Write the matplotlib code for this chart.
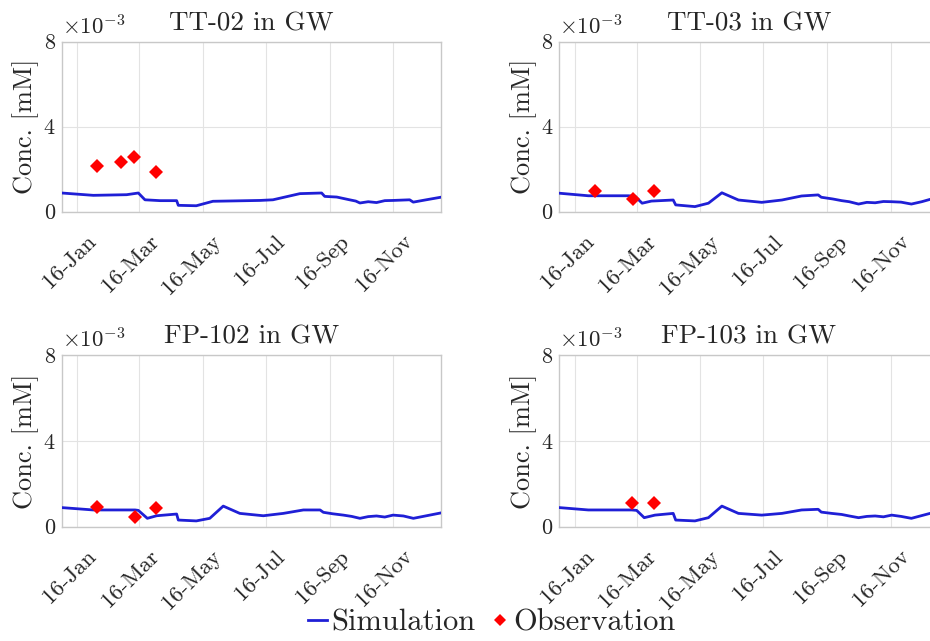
import matplotlib
matplotlib.use("Agg")
import matplotlib.pyplot as plt
import matplotlib.transforms as mtransforms
import numpy as np
import pandas as pd
from matplotlib.lines import Line2D

plt.rcParams['font.family'] = ['cmr10', 'DejaVu Serif']
plt.rcParams['mathtext.fontset'] = 'cm'
plt.rcParams['axes.unicode_minus'] = False

start = pd.Timestamp('2016-01-01')
end = pd.Timestamp('2017-01-01')

titles = ['TT-02 in GW', 'TT-03 in GW', 'FP-102 in GW', 'FP-103 in GW']

# simulation (days since 2016-01-01, concentration in 1e-3 mM)
sim_days_tt02 = [0, 30.5, 62.7, 74, 80.4, 95, 111, 112.6, 130, 146, 191.5, 204, 230, 251,
                 254, 265.6, 278, 284, 288, 296, 304, 312, 320, 336, 339.5, 352, 366]
sim_vals_tt02 = [0.88, 0.77, 0.80, 0.88, 0.56, 0.52, 0.52, 0.30, 0.28, 0.49, 0.53, 0.56, 0.85, 0.88,
                 0.72, 0.69, 0.56, 0.50, 0.41, 0.47, 0.43, 0.52, 0.53, 0.56, 0.45, 0.56, 0.68]

sim_days_tt03 = [0, 28, 66.7, 73, 80, 89, 110, 112.4, 131, 144, 157, 173, 195.5, 215,
                 234, 250, 253, 264, 272.7, 280, 289, 297, 305, 313, 321, 330, 340, 350, 358, 366]
sim_vals_tt03 = [0.87, 0.75, 0.75, 0.73, 0.40, 0.50, 0.55, 0.32, 0.24, 0.40, 0.89, 0.55, 0.44, 0.55,
                 0.74, 0.79, 0.68, 0.60, 0.52, 0.47, 0.36, 0.44, 0.42, 0.48, 0.47, 0.45, 0.36, 0.47, 0.58, 0.62]

sim_days_fp102 = [0, 30.5, 70.8, 74, 82.7, 91.7, 111, 112.6, 130, 143, 156, 172, 194.7, 214,
                  233.4, 249.5, 252.7, 262, 272, 280, 288, 296, 304, 312, 320, 330, 339.6, 366]
sim_vals_fp102 = [0.89, 0.78, 0.78, 0.76, 0.39, 0.51, 0.59, 0.31, 0.27, 0.39, 0.96, 0.62, 0.51, 0.62,
                  0.78, 0.78, 0.67, 0.60, 0.54, 0.48, 0.39, 0.47, 0.50, 0.45, 0.54, 0.50, 0.39, 0.64]

sim_days_fp103 = [0, 28, 69.9, 74.7, 82, 92.4, 110, 112.4, 131, 144, 157, 173, 195.5, 215,
                  234, 250, 253, 263, 272.7, 280, 289, 297, 305, 313, 321, 330, 340, 358, 366]
sim_vals_fp103 = [0.89, 0.78, 0.78, 0.76, 0.42, 0.54, 0.62, 0.31, 0.27, 0.42, 0.96, 0.62, 0.54, 0.62,
                  0.78, 0.81, 0.68, 0.62, 0.57, 0.50, 0.42, 0.48, 0.50, 0.46, 0.54, 0.48, 0.39, 0.62, 0.66]

# observations
obs_dates_tt02 = ['2016-02-04', '2016-02-27', '2016-03-11', '2016-04-01']
obs_vals_tt02 = [2.13, 2.32, 2.57, 1.88]
obs_dates_tt03 = ['2016-02-04', '2016-03-12', '2016-04-01']
obs_vals_tt03 = [0.97, 0.60, 0.97]
obs_dates_fp102 = ['2016-02-04', '2016-03-12', '2016-04-01']
obs_vals_fp102 = [0.90, 0.47, 0.86]
obs_dates_fp103 = ['2016-03-11', '2016-04-01']
obs_vals_fp103 = [1.12, 1.12]

tick_dates = ['2016-01-16', '2016-03-16', '2016-05-16', '2016-07-16', '2016-09-16', '2016-11-16']
tick_labels = ['16-Jan', '16-Mar', '16-May', '16-Jul', '16-Sep', '16-Nov']
y_ticks = [0, 4, 8]

sims = [(sim_days_tt02, sim_vals_tt02), (sim_days_tt03, sim_vals_tt03),
        (sim_days_fp102, sim_vals_fp102), (sim_days_fp103, sim_vals_fp103)]
obss = [(obs_dates_tt02, obs_vals_tt02), (obs_dates_tt03, obs_vals_tt03),
        (obs_dates_fp102, obs_vals_fp102), (obs_dates_fp103, obs_vals_fp103)]

W, H = 930, 641
fig = plt.figure(figsize=(W / 100, H / 100), dpi=100)

# axes boxes in pixels (left, top, width, height)
boxes = [(61.7, 41.7, 379, 170), (559.3, 41.7, 379, 170),
         (61.7, 355, 379, 171.7), (559.3, 355, 379, 171.7)]

line_color = '#1f1fd6'
grid_color = '#e3e3e3'
spine_color = '#c8c8c8'
text_color = '#262626'

shift = mtransforms.ScaledTranslation(9 / 100, 0, fig.dpi_scale_trans)

for i, (l, t, w, h) in enumerate(boxes):
    ax = fig.add_axes([l / W, 1 - (t + h) / H, w / W, h / H])
    days, vals = sims[i]
    dates = start + pd.to_timedelta(days, unit='D')
    ax.plot(dates, vals, color=line_color, lw=2.0, zorder=3)
    od, ov = obss[i]
    ax.plot(pd.to_datetime(od), ov, linestyle='none', marker='D', color='#ff0000',
            markersize=7, markeredgewidth=0, zorder=4)
    ax.set_xlim(start, end)
    ax.set_ylim(0, 8)
    ax.set_yticks(y_ticks)
    ax.set_yticklabels([str(v) for v in y_ticks])
    ax.set_xticks(pd.to_datetime(tick_dates))
    ax.set_xticklabels(tick_labels, rotation=45, ha='right', va='top', rotation_mode='anchor')
    ax.tick_params(axis='both', length=0, colors=text_color, pad=5)
    ax.tick_params(axis='y', labelsize=16)
    ax.tick_params(axis='x', labelsize=16.5, pad=14)
    for lab in ax.get_xticklabels():
        lab.set_transform(lab.get_transform() + shift)
    ax.grid(True, color=grid_color, lw=0.8)
    ax.set_axisbelow(True)
    for s in ax.spines.values():
        s.set_color(spine_color)
        s.set_linewidth(1.0)
    ax.set_title(titles[i], fontsize=19.5, color=text_color, pad=8)
    ax.set_ylabel('Conc. [mM]', fontsize=19, color=text_color, labelpad=3)
    ax.text(0.0, 1.02, r'$\times10^{-3}$', transform=ax.transAxes, fontsize=16.5,
            color=text_color, ha='left', va='bottom')

handles = [Line2D([], [], color=line_color, lw=2),
           Line2D([], [], color='#ff0000', marker='D', linestyle='none', markersize=6, markeredgewidth=0)]
fig.legend(handles, ['Simulation', 'Observation'], loc='center', bbox_to_anchor=(492 / W, 1 - 623 / H),
           ncol=2, frameon=False, fontsize=22, handlelength=0.6, handletextpad=0.15, columnspacing=0.5,
           labelcolor=text_color)

fig.savefig('out.png', dpi=100, facecolor='white')
